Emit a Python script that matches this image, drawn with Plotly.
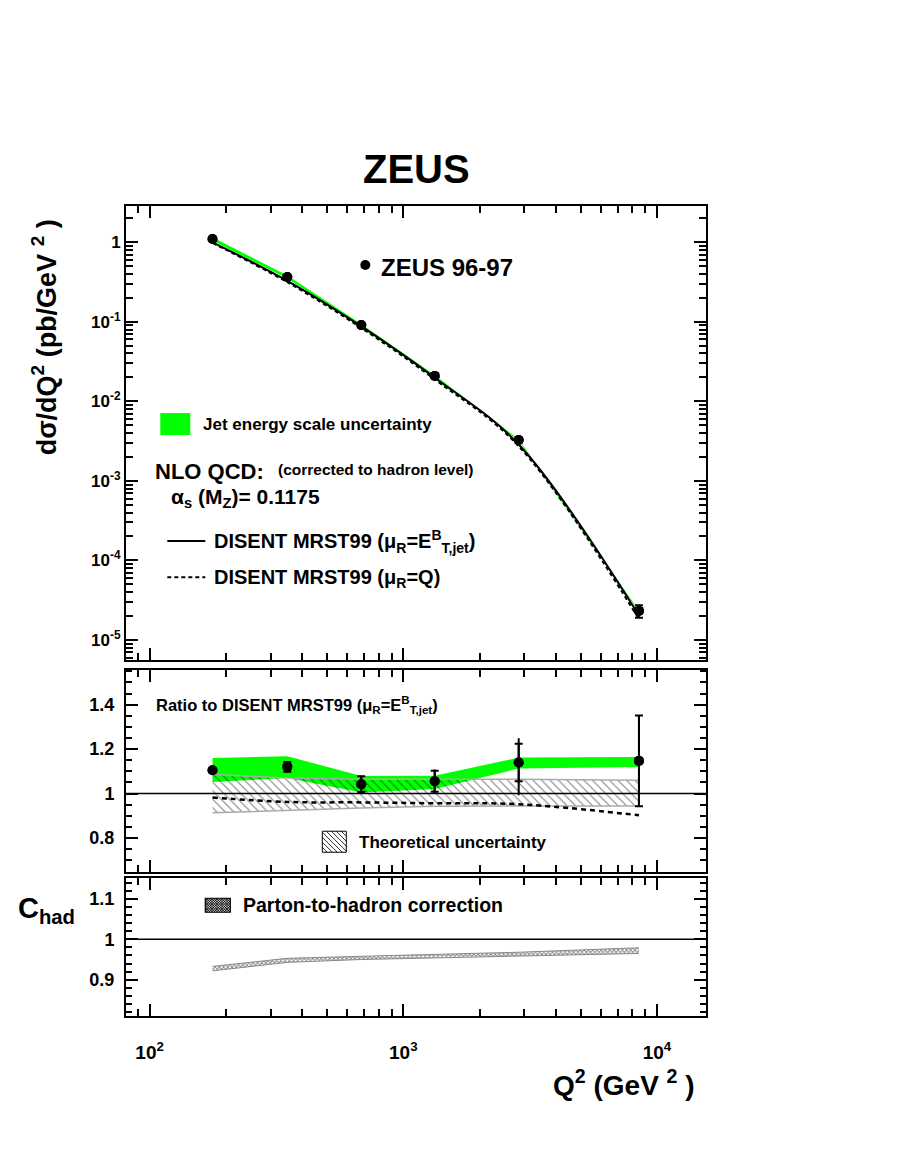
import plotly.graph_objects as go

# Q^2 bin centres (GeV^2)
q2 = [177, 349, 683, 1330, 2850, 8490]

# d sigma / dQ^2 (pb/GeV^2)
xsec_data = [1.10, 0.366, 0.091, 0.0209, 0.00327, 2.32e-5]
xsec_nlo_et = [1.00, 0.327, 0.0875, 0.0198, 0.00287, 2.03e-5]
xsec_nlo_q = [0.982, 0.315, 0.0838, 0.0189, 0.00273, 1.83e-5]

# relative errors on the data (stat, total up/down)
err_stat = [0.008, 0.020, 0.034, 0.045, 0.074, 0.178]
err_tot_up = [0.011, 0.024, 0.036, 0.050, 0.095, 0.180]
err_tot_dn = [0.011, 0.024, 0.036, 0.053, 0.130, 0.178]

# relative jet energy scale uncertainty
jes_up = [0.050, 0.043, 0.035, 0.024, 0.019, 0.015]
jes_dn = [0.048, 0.045, 0.036, 0.033, 0.024, 0.024]

# ratio to DISENT MRST99 (mu_R = E_T,jet^B)
ratio_data = [1.105, 1.120, 1.042, 1.055, 1.140, 1.147]
ratio_nlo_q = [0.982, 0.962, 0.960, 0.956, 0.952, 0.902]
theo_up = [1.086, 1.070, 1.064, 1.064, 1.064, 1.060]
theo_dn = [0.913, 0.925, 0.935, 0.943, 0.943, 0.944]

# parton-to-hadron correction band
chad_lo = [0.922, 0.943, 0.950, 0.954, 0.960, 0.965]
chad_hi = [0.933, 0.953, 0.958, 0.962, 0.968, 0.979]

# axis ticks
x_major = [100, 1000, 10000]
x_major_text = ['10<sup>2</sup>', '10<sup>3</sup>', '10<sup>4</sup>']
y_major = [1, 1e-1, 1e-2, 1e-3, 1e-4, 1e-5]
y_major_text = ['1', '10<sup>-1</sup>', '10<sup>-2</sup>', '10<sup>-3</sup>',
                '10<sup>-4</sup>', '10<sup>-5</sup>']
x_minor = [m * 10 ** e for e in range(1, 5) for m in range(2, 10)]
y_minor = [m * 10 ** e for e in range(-6, 1) for m in range(2, 10)]

# page geometry (absolute window pixels); the page body adds an 8px offset
W, H = 899, 1163
OFF = 8
LW = 2                       # frame line width
L, R = 125.7, 705.7          # plot area edges (x)
T, B = 206, 1015.7           # plot area edges (y)
PW, PH = R - L, B - T
FONT = 'Liberation Sans, Arial, Helvetica, sans-serif'
GREEN = '#00ff00'


def px(x):
    return (x - L) / PW


def py(y):
    return (B - y) / PH


# pixel calibration of the axes
def xlog(p):
    return 2 + (p - 149.3) / 253.7


def ylog_top(p):
    return (242.3 - p) / 79.5


def y_mid(p):
    return 1 + (793.3 - p) / 222.0


def y_bot(p):
    return 1 + (939.0 - p) / 405.0


top_px = (206, 660.3)
mid_px = (670, 871.5)
bot_px = (877.7, 1015.7)

fig = go.Figure()

# ---------- top panel ----------
fig.add_trace(go.Scatter(x=q2, y=[v * (1 - d) for v, d in zip(xsec_data, jes_dn)],
                         mode='lines', line=dict(width=0), showlegend=False,
                         xaxis='x', yaxis='y', hoverinfo='skip'))
fig.add_trace(go.Scatter(x=q2, y=[v * (1 + u) for v, u in zip(xsec_data, jes_up)],
                         mode='lines', line=dict(width=0), fill='tonexty',
                         fillcolor=GREEN, showlegend=False, xaxis='x', yaxis='y',
                         hoverinfo='skip'))
fig.add_trace(go.Scatter(x=q2, y=xsec_nlo_q, mode='lines',
                         line=dict(color='black', width=2, dash='4px,3px', shape='spline'),
                         showlegend=False, xaxis='x', yaxis='y'))
fig.add_trace(go.Scatter(x=q2, y=xsec_nlo_et, mode='lines',
                         line=dict(color='black', width=2, shape='spline'),
                         showlegend=False, xaxis='x', yaxis='y'))
fig.add_trace(go.Scatter(
    x=q2, y=xsec_data, mode='markers', marker=dict(size=10, color='black'),
    error_y=dict(type='data', array=[v * e for v, e in zip(xsec_data, err_tot_up)],
                 arrayminus=[v * e for v, e in zip(xsec_data, err_tot_dn)],
                 color='black', thickness=2, width=0),
    showlegend=False, xaxis='x', yaxis='y'))
fig.add_trace(go.Scatter(
    x=q2, y=xsec_data, mode='markers', marker=dict(size=10, color='black'),
    error_y=dict(type='data', array=[v * e for v, e in zip(xsec_data, err_stat)],
                 color='black', thickness=2, width=4),
    showlegend=False, xaxis='x', yaxis='y'))

# ---------- ratio panel ----------
fig.add_trace(go.Scatter(x=q2, y=[v * (1 - d) for v, d in zip(ratio_data, jes_dn)],
                         mode='lines', line=dict(width=0), showlegend=False,
                         xaxis='x2', yaxis='y2', hoverinfo='skip'))
fig.add_trace(go.Scatter(x=q2, y=[v * (1 + u) for v, u in zip(ratio_data, jes_up)],
                         mode='lines', line=dict(width=0), fill='tonexty',
                         fillcolor=GREEN, showlegend=False, xaxis='x2', yaxis='y2',
                         hoverinfo='skip'))
fig.add_trace(go.Scatter(x=q2, y=theo_dn, mode='lines',
                         line=dict(color='#aaaaaa', width=1.5), showlegend=False,
                         xaxis='x2', yaxis='y2', hoverinfo='skip'))
fig.add_trace(go.Scatter(x=q2, y=theo_up, mode='lines',
                         line=dict(color='#aaaaaa', width=1.5), fill='tonexty',
                         fillcolor='rgba(255,255,255,0)',
                         fillpattern=dict(shape='\\', fgcolor='black', size=6,
                                          solidity=0.18, fillmode='overlay'),
                         showlegend=False, xaxis='x2', yaxis='y2', hoverinfo='skip'))
fig.add_trace(go.Scatter(x=q2, y=ratio_nlo_q, mode='lines',
                         line=dict(color='black', width=2.5, dash='5px,4px', shape='spline'),
                         showlegend=False, xaxis='x2', yaxis='y2'))
fig.add_trace(go.Scatter(
    x=q2, y=ratio_data, mode='markers', marker=dict(size=10, color='black'),
    error_y=dict(type='data', array=[v * e for v, e in zip(ratio_data, err_tot_up)],
                 arrayminus=[v * e for v, e in zip(ratio_data, err_tot_dn)],
                 color='black', thickness=2, width=0),
    showlegend=False, xaxis='x2', yaxis='y2'))
fig.add_trace(go.Scatter(
    x=q2, y=ratio_data, mode='markers', marker=dict(size=10, color='black'),
    error_y=dict(type='data', array=[v * e for v, e in zip(ratio_data, err_stat)],
                 color='black', thickness=2, width=4),
    showlegend=False, xaxis='x2', yaxis='y2'))

# ---------- C_had panel ----------
fig.add_trace(go.Scatter(x=q2, y=chad_lo, mode='lines',
                         line=dict(color='#888888', width=1), showlegend=False,
                         xaxis='x3', yaxis='y3', hoverinfo='skip'))
fig.add_trace(go.Scatter(x=q2, y=chad_hi, mode='lines',
                         line=dict(color='#888888', width=1), fill='tonexty',
                         fillcolor='white',
                         fillpattern=dict(shape='x', fgcolor='black', bgcolor='white',
                                          size=3, solidity=0.5),
                         showlegend=False, xaxis='x3', yaxis='y3', hoverinfo='skip'))

# ---------- axes ----------
tick_font = dict(family=FONT, size=18, color='black', weight='bold')
frame = dict(showline=True, linecolor='black', linewidth=LW, mirror='ticks',
             ticks='inside', ticklen=12, tickwidth=1.5, tickcolor='black',
             showgrid=False, zeroline=False)


def xaxis(anchor, labels=False):
    ax = dict(frame, type='log', range=[xlog(L), xlog(R)], anchor=anchor,
              domain=[0, 1], tickmode='array', tickvals=x_major,
              minor=dict(ticks='inside', ticklen=7, tickwidth=1.5, tickcolor='black',
                         tickmode='array', tickvals=x_minor, showgrid=False))
    if labels:
        ax.update(ticktext=x_major_text, showticklabels=True, ticklabelstandoff=18,
                  tickfont=dict(family=FONT, size=19, color='black', weight='bold'))
    else:
        ax.update(showticklabels=False)
    return ax


fig.update_layout(
    width=W - 2 * OFF, height=H - 2 * OFF,
    margin=dict(l=L - OFF, r=W - R - OFF, t=T - OFF, b=H - B - OFF),
    paper_bgcolor='white', plot_bgcolor='white',
    showlegend=False,
    font=dict(family=FONT, color='black'),
    xaxis=xaxis('y'),
    xaxis2=xaxis('y2'),
    xaxis3=xaxis('y3', labels=True),
    yaxis=dict(frame, type='log', range=[ylog_top(top_px[1]), ylog_top(top_px[0])],
               domain=[py(top_px[1]), py(top_px[0])], anchor='x',
               tickmode='array', tickvals=y_major, ticktext=y_major_text,
               tickfont=dict(tick_font, size=17),
               minor=dict(ticks='inside', ticklen=7, tickwidth=1.5, tickcolor='black',
                          tickmode='array', tickvals=y_minor, showgrid=False)),
    yaxis2=dict(frame, range=[y_mid(mid_px[1]), y_mid(mid_px[0])],
                domain=[py(mid_px[1]), py(mid_px[0])], anchor='x2',
                tick0=0, dtick=0.2, tickfont=tick_font, ticklabelstandoff=6,
                minor=dict(ticks='inside', ticklen=6, tickwidth=1.5, tickcolor='black',
                           dtick=0.05, tick0=0, showgrid=False)),
    yaxis3=dict(frame, range=[y_bot(bot_px[1]), y_bot(bot_px[0])],
                domain=[py(bot_px[1]), py(bot_px[0])], anchor='x3',
                tick0=0, dtick=0.1, tickfont=tick_font, ticklabelstandoff=6,
                minor=dict(ticks='inside', ticklen=6, tickwidth=1.5, tickcolor='black',
                           dtick=0.02, tick0=0, showgrid=False)),
)

# reference lines at 1
shapes = [
    dict(type='line', xref='x2 domain', yref='y2', x0=0, x1=1, y0=1, y1=1,
         line=dict(color='black', width=1.5), layer='above'),
    dict(type='line', xref='x3 domain', yref='y3', x0=0, x1=1, y0=1, y1=1,
         line=dict(color='black', width=1.5), layer='above'),
]


def pline(x0, y0, x1, y1, width=1.0, dash='solid', color='black'):
    return dict(type='line', xref='paper', yref='paper', x0=px(x0), y0=py(y0),
                x1=px(x1), y1=py(y1), line=dict(color=color, width=width, dash=dash))


def hatch(x0, y0, x1, y1, step, direction):
    # diagonal lines clipped to the box (pixel coords, y down)
    out = []
    w, h = x1 - x0, y1 - y0
    c = -h
    while c < w:
        t0, t1 = max(0, -c), min(h, w - c)
        if t1 > t0:
            if direction > 0:
                out.append(pline(x0 + c + t0, y0 + t0, x0 + c + t1, y0 + t1, 0.8))
            else:
                out.append(pline(x0 + c + t0, y1 - t0, x0 + c + t1, y1 - t1, 0.8))
        c += step
    return out


# legend keys
shapes.append(dict(type='circle', xref='paper', yref='paper', x0=px(360), x1=px(370),
                   y0=py(270), y1=py(260), fillcolor='black', line=dict(width=0)))
shapes.append(dict(type='rect', xref='paper', yref='paper', x0=px(160), x1=px(190),
                   y0=py(435), y1=py(413), fillcolor=GREEN, line=dict(width=0)))
shapes.append(pline(167, 541, 205, 541, 2))
shapes.append(pline(167, 577, 205, 577, 2, dash='4px,3px'))
shapes += hatch(322, 831, 346, 852, 5, 1)
shapes.append(dict(type='rect', xref='paper', yref='paper', x0=px(322), x1=px(346),
                   y0=py(852), y1=py(831), line=dict(color='black', width=1)))
shapes.append(dict(type='rect', xref='paper', yref='paper', x0=px(205), x1=px(230),
                   y0=py(912), y1=py(898), fillcolor='#d0d0d0', line=dict(width=0)))
shapes += hatch(205, 898, 230, 912, 2.5, 1)
shapes += hatch(205, 898, 230, 912, 2.5, -1)
shapes.append(dict(type='rect', xref='paper', yref='paper', x0=px(205), x1=px(230),
                   y0=py(912), y1=py(898), line=dict(color='black', width=1.2)))
fig.update_layout(shapes=shapes)


def note(text, x, y, size, xanchor='left', angle=0):
    return dict(text=text, xref='paper', yref='paper', x=px(x), y=py(y),
                xanchor=xanchor, yanchor='middle', showarrow=False, textangle=angle,
                font=dict(family=FONT, size=size, color='black', weight='bold'))


mu_et = '(μ<sub>R</sub>=E<sup>B</sup><sub>T,jet</sub>)'
fig.update_layout(annotations=[
    note('ZEUS', 416, 169, 40, xanchor='center'),
    note('dσ/dQ<sup>2</sup> (pb/GeV <sup>2</sup> )', 44, 337, 27,
         xanchor='center', angle=-90),
    note('ZEUS 96-97', 379, 267, 24),
    note('Jet energy scale uncertainty', 201, 424, 17),
    note('NLO QCD:', 153, 471, 22),
    note('(corrected to hadron level)', 276, 469, 15.5),
    note('α<sub>s</sub> (M<sub>Z</sub>)= 0.1175', 169, 498, 21),
    note('DISENT MRST99 ' + mu_et, 212, 541, 20),
    note('DISENT MRST99 (μ<sub>R</sub>=Q)', 212, 578, 20),
    note('Ratio to DISENT MRST99 ' + mu_et, 154, 705, 16.5),
    note('Theoretical uncertainty', 357, 842, 17),
    note('Parton-to-hadron correction', 241, 905, 19.5),
    note('C<sub>had</sub>', 16, 910, 29),
    note('Q<sup>2</sup> (GeV <sup>2</sup> )', 697, 1083, 28, xanchor='right'),
])

fig.write_html("out.html")
